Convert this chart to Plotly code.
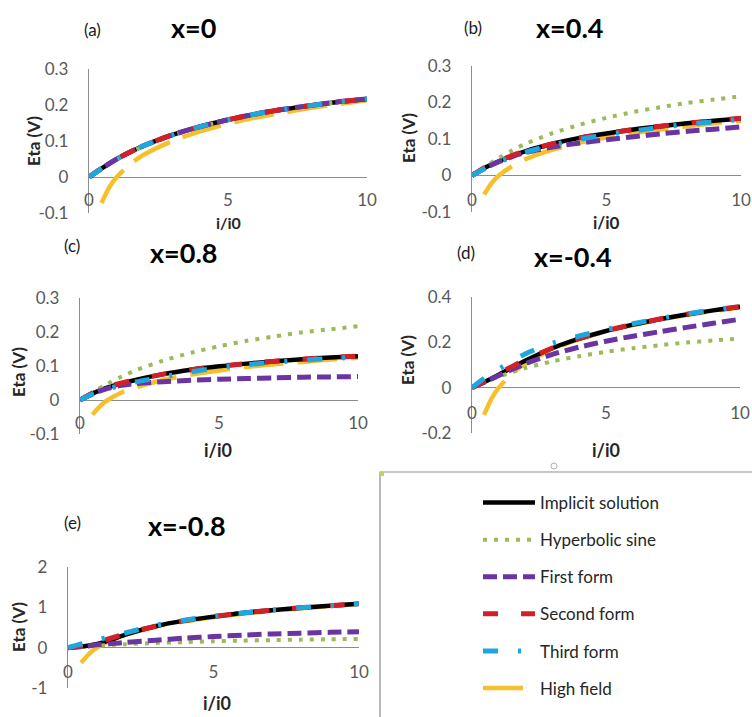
import plotly.graph_objects as go

# ---------------- data ----------------
I_MAIN = [0, 0.5, 1, 1.5, 2, 3, 4, 5, 6, 7, 8, 9, 10]
I_HF = [0.45, 0.75, 1, 1.5, 2, 3, 4, 5, 6, 7, 8, 9, 10]

SERIES_NAMES = ["Implicit solution", "Hyperbolic sine", "First form",
                "Second form", "Third form", "High field"]
PANEL_LETTERS = ["(a)", "(b)", "(c)", "(d)", "(e)"]
PANEL_TITLES = ["x=0", "x=0.4", "x=0.8", "x=-0.4", "x=-0.8"]
X_AXIS_TITLE = "i/i0"
Y_AXIS_TITLE = "Eta (V)"

X_TICKS = [0, 5, 10]
X_TICK_TEXT = ["0", "5", "10"]
Y_TICKS_SMALL = [-0.1, 0, 0.1, 0.2, 0.3]
Y_TICK_TEXT_SMALL = ["-0.1", "0", "0.1", "0.2", "0.3"]
Y_TICKS_D = [-0.2, 0, 0.2, 0.4]
Y_TICK_TEXT_D = ["-0.2", "0", "0.2", "0.4"]
Y_TICKS_E = [-1, 0, 1, 2]
Y_TICK_TEXT_E = ["-1", "0", "1", "2"]

HYPERBOLIC_SINE = [0, 0.025, 0.048, 0.069, 0.087, 0.116, 0.139, 0.158, 0.174, 0.187, 0.199, 0.208, 0.217]

IMPLICIT_A = [0, 0.026, 0.050, 0.070, 0.088, 0.117, 0.140, 0.159, 0.175, 0.188, 0.199, 0.209, 0.217]
FIRST_A = [0, 0.026, 0.050, 0.070, 0.088, 0.117, 0.140, 0.159, 0.175, 0.188, 0.199, 0.209, 0.217]
SECOND_A = [0, 0.026, 0.050, 0.070, 0.088, 0.117, 0.140, 0.159, 0.175, 0.188, 0.199, 0.209, 0.217]
THIRD_A = [0, 0.026, 0.050, 0.070, 0.088, 0.117, 0.140, 0.159, 0.175, 0.188, 0.199, 0.209, 0.217]
HIGH_A = [-0.072, -0.026, 0, 0.037, 0.063, 0.100, 0.127, 0.148, 0.165, 0.179, 0.192, 0.203, 0.213]

IMPLICIT_B = [0, 0.022, 0.039, 0.054, 0.067, 0.087, 0.103, 0.115, 0.126, 0.135, 0.143, 0.150, 0.156]
FIRST_B = [0, 0.021, 0.038, 0.052, 0.063, 0.078, 0.089, 0.098, 0.106, 0.114, 0.121, 0.127, 0.133]
SECOND_B = [0, 0.023, 0.040, 0.055, 0.067, 0.087, 0.103, 0.115, 0.126, 0.135, 0.143, 0.150, 0.157]
THIRD_B = [0, 0.020, 0.037, 0.051, 0.064, 0.084, 0.099, 0.112, 0.122, 0.132, 0.140, 0.147, 0.154]
HIGH_B = [-0.052, -0.019, 0, 0.026, 0.045, 0.071, 0.090, 0.104, 0.116, 0.126, 0.135, 0.143, 0.150]

IMPLICIT_C = [0, 0.021, 0.037, 0.049, 0.059, 0.076, 0.089, 0.099, 0.107, 0.114, 0.120, 0.125, 0.129]
FIRST_C = [0, 0.020, 0.034, 0.043, 0.048, 0.054, 0.058, 0.061, 0.063, 0.065, 0.067, 0.068, 0.069]
SECOND_C = [0, 0.022, 0.039, 0.050, 0.060, 0.076, 0.089, 0.099, 0.107, 0.114, 0.120, 0.125, 0.129]
THIRD_C = [0, 0.019, 0.033, 0.044, 0.053, 0.068, 0.083, 0.095, 0.104, 0.111, 0.117, 0.122, 0.126]
HIGH_C = [-0.043, -0.016, 0, 0.022, 0.037, 0.059, 0.075, 0.087, 0.097, 0.105, 0.112, 0.119, 0.124]

IMPLICIT_D = [0, 0.027, 0.057, 0.089, 0.120, 0.174, 0.216, 0.250, 0.278, 0.302, 0.323, 0.341, 0.357]
FIRST_D = [0, 0.026, 0.054, 0.081, 0.106, 0.147, 0.179, 0.205, 0.227, 0.247, 0.266, 0.284, 0.302]
SECOND_D = [0, 0.030, 0.062, 0.094, 0.123, 0.175, 0.217, 0.251, 0.279, 0.303, 0.324, 0.342, 0.358]
THIRD_D = [0, 0.045, 0.082, 0.117, 0.150, 0.196, 0.228, 0.256, 0.282, 0.305, 0.325, 0.343, 0.359]
HIGH_D = [-0.120, -0.044, 0, 0.062, 0.107, 0.169, 0.214, 0.248, 0.276, 0.300, 0.320, 0.338, 0.354]

IMPLICIT_E = [0, 0.03, 0.09, 0.20, 0.33, 0.53, 0.67, 0.77, 0.86, 0.93, 0.99, 1.04, 1.09]
FIRST_E = [0, 0.03, 0.07, 0.10, 0.13, 0.185, 0.235, 0.275, 0.31, 0.34, 0.36, 0.38, 0.395]
SECOND_E = [0, 0.05, 0.13, 0.24, 0.35, 0.53, 0.67, 0.77, 0.86, 0.93, 0.99, 1.04, 1.09]
THIRD_E = [0, 0.10, 0.19, 0.28, 0.37, 0.55, 0.68, 0.78, 0.86, 0.93, 0.99, 1.04, 1.09]
HIGH_E = [-0.375, -0.135, 0, 0.19, 0.325, 0.516, 0.651, 0.756, 0.841, 0.914, 0.976, 1.032, 1.081]

PANEL_DATA = [
    [IMPLICIT_A, HYPERBOLIC_SINE, FIRST_A, SECOND_A, THIRD_A, HIGH_A],
    [IMPLICIT_B, HYPERBOLIC_SINE, FIRST_B, SECOND_B, THIRD_B, HIGH_B],
    [IMPLICIT_C, HYPERBOLIC_SINE, FIRST_C, SECOND_C, THIRD_C, HIGH_C],
    [IMPLICIT_D, HYPERBOLIC_SINE, FIRST_D, SECOND_D, THIRD_D, HIGH_D],
    [IMPLICIT_E, HYPERBOLIC_SINE, FIRST_E, SECOND_E, THIRD_E, HIGH_E],
]
PANEL_Y_RANGES = [[-0.1, 0.3], [-0.1, 0.3], [-0.1, 0.3], [-0.2, 0.4], [-1, 2]]
PANEL_Y_TICKS = [
    (Y_TICKS_SMALL, Y_TICK_TEXT_SMALL), (Y_TICKS_SMALL, Y_TICK_TEXT_SMALL),
    (Y_TICKS_SMALL, Y_TICK_TEXT_SMALL), (Y_TICKS_D, Y_TICK_TEXT_D), (Y_TICKS_E, Y_TICK_TEXT_E),
]

# ---------------- styling / layout ----------------
W, H = 752, 717
STYLES = {
    "Implicit solution": dict(color="#000000", width=4.5, dash="solid"),
    "Hyperbolic sine": dict(color="#9BBB59", width=4, dash="4px,7px"),
    "First form": dict(color="#6A35A0", width=5, dash="14px,6px"),
    "Second form": dict(color="#D0202A", width=5, dash="15px,23px"),
    "Third form": dict(color="#1FA6DD", width=5, dash="15px,20px,3px,20px"),
    "High field": dict(color="#F5C02C", width=4.5, dash="40px,14px"),
}
DRAW_ORDER = ["High field", "Implicit solution", "Hyperbolic sine", "First form", "Second form", "Third form"]

# pixel geometry per panel (title font sizes per panel too)
GEOM = [
    dict(x0=89, x1=367, yb=213, yt=69, xlab=188, letter=(92, 29), title=(193, 28),
         ytitle=(33, 141), xtitle=(228, 223), xtsize=16),
    dict(x0=472, x1=741, yb=212, yt=66, xlab=188, letter=(473, 27), title=(570, 27),
         ytitle=(409, 138), xtitle=(606, 222), xtsize=17),
    dict(x0=80, x1=358, yb=434, yt=298, xlab=411, letter=(72, 245), title=(184, 252),
         ytitle=(18, 372), xtitle=(218, 450), xtsize=18),
    dict(x0=472, x1=740, yb=433, yt=297, xlab=401, letter=(466, 253), title=(573, 256),
         ytitle=(407, 360), xtitle=(606, 450), xtsize=18),
    dict(x0=68, x1=359, yb=688, yt=567, xlab=660, letter=(72, 522), title=(187, 525),
         ytitle=(18, 627), xtitle=(217, 703), xtsize=18),
]

FONT = "Lato, 'Open Sans', sans-serif"
TICK_COLOR = "#595959"
AXIS_COLOR = "#8C8C8C"


def px_x(v):
    return v / W


def px_y(v):
    return 1 - v / H


def text_ann(text, pos, size, color, angle=0):
    return dict(text=text, x=px_x(pos[0]), y=px_y(pos[1]), xref="paper", yref="paper",
                xanchor="center", yanchor="middle", showarrow=False, textangle=angle,
                font=dict(family=FONT, size=size, color=color))


fig = go.Figure()
layout = dict(
    width=W, height=H, margin=dict(l=0, r=0, t=0, b=0, autoexpand=False),
    paper_bgcolor="white", plot_bgcolor="rgba(0,0,0,0)",
    font=dict(family=FONT, size=17, color=TICK_COLOR),
    showlegend=True,
    legend=dict(
        x=px_x(478), y=px_y(485), xanchor="left", yanchor="top",
        bgcolor="rgba(0,0,0,0)", borderwidth=0,
        font=dict(family=FONT, size=17, color="#262626"),
        tracegroupgap=12, itemwidth=52,
    ),
    annotations=[], shapes=[],
)

for k, g in enumerate(GEOM):
    sfx = "" if k == 0 else str(k + 1)
    xa, ya = "x" + sfx, "y" + sfx
    series = PANEL_DATA[k]
    for name in DRAW_ORDER:
        idx = SERIES_NAMES.index(name)
        xs = I_HF if name == "High field" else I_MAIN
        fig.add_trace(go.Scatter(
            x=xs, y=series[idx], mode="lines", name=name,
            line=dict(shape="spline", smoothing=0.8, **STYLES[name]),
            xaxis=xa, yaxis=ya, legendgroup=name, legendrank=idx + 1,
            showlegend=(k == 0), hoverinfo="skip",
        ))
    yt, ytt = PANEL_Y_TICKS[k]
    layout["xaxis" + sfx] = dict(
        domain=[px_x(g["x0"]), px_x(g["x1"])], range=[0, 10],
        anchor="free", position=px_y(g["xlab"]),
        showline=False, showgrid=False, zeroline=False, ticks="",
        tickvals=X_TICKS, ticktext=X_TICK_TEXT, ticklabeloverflow="allow",
        tickfont=dict(family=FONT, size=17, color=TICK_COLOR),
    )
    layout["yaxis" + sfx] = dict(
        domain=[px_y(g["yb"]), px_y(g["yt"])], range=PANEL_Y_RANGES[k],
        anchor=xa, showline=True, linecolor=AXIS_COLOR, linewidth=1.3,
        showgrid=False, zeroline=True, zerolinecolor=AXIS_COLOR, zerolinewidth=1.3,
        ticks="", tickvals=yt, ticktext=ytt, ticklabelstandoff=16,
        tickfont=dict(family=FONT, size=17, color=TICK_COLOR),
    )
    layout["annotations"] += [
        text_ann(PANEL_LETTERS[k], g["letter"], 17, "#1a1a1a"),
        text_ann("<b>" + PANEL_TITLES[k] + "</b>", g["title"], 27, "#000000"),
        text_ann("<b>" + Y_AXIS_TITLE + "</b>", g["ytitle"], 17, "#262626", angle=-90),
        text_ann("<b>" + X_AXIS_TITLE + "</b>", g["xtitle"], g["xtsize"], "#262626"),
    ]

# legend frame and small selection handles
layout["shapes"] += [
    dict(type="rect", xref="paper", yref="paper", x0=px_x(380), x1=px_x(760),
         y0=px_y(725), y1=px_y(472), line=dict(color="#8C8C8C", width=1.2),
         fillcolor="rgba(0,0,0,0)", layer="below"),
    dict(type="circle", xref="paper", yref="paper", x0=px_x(551), x1=px_x(557),
         y0=px_y(469), y1=px_y(463), line=dict(color="#B0B0B0", width=1),
         fillcolor="white"),
    dict(type="rect", xref="paper", yref="paper", x0=px_x(380), x1=px_x(384),
         y0=px_y(476), y1=px_y(472), line=dict(width=0), fillcolor="#C8D060"),
]

fig.update_layout(**layout)
fig.write_html(
    "out.html",
    config={"displayModeBar": False},
    post_script="document.body.style.margin='0px';document.body.style.overflow='hidden';",
)
